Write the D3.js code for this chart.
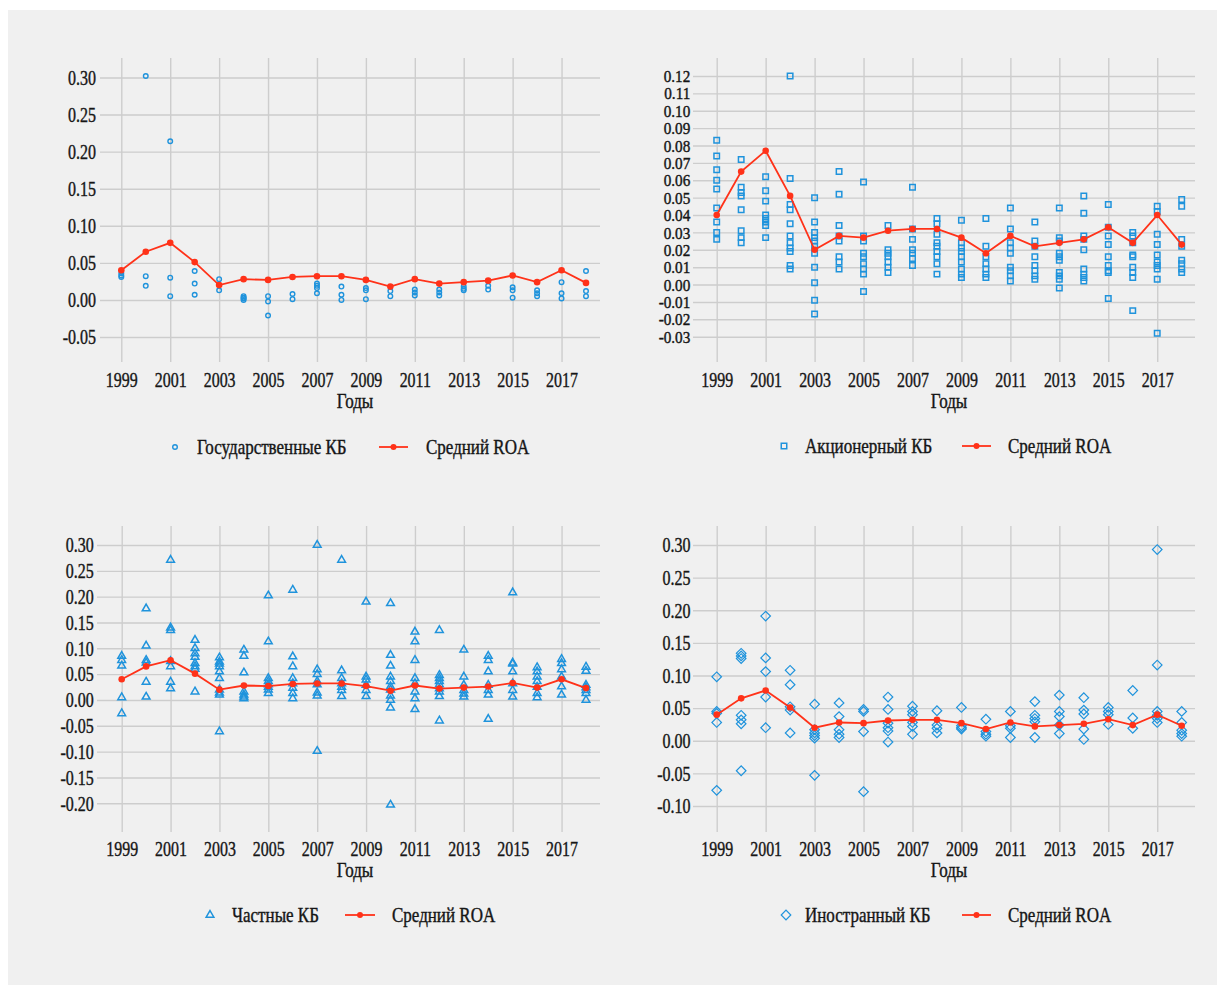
<!DOCTYPE html>
<html><head><meta charset="utf-8">
<script src="https://cdn.jsdelivr.net/npm/d3@7"></script>
<style>
html,body{margin:0;padding:0;background:#fff;}
svg{display:block;}
</style></head><body>
<svg id="chart" width="1225" height="985"></svg>
<script>
const years = [1999,2000,2001,2002,2003,2004,2005,2006,2007,2008,2009,2010,2011,2012,2013,2014,2015,2016,2017,2018];
const yearTicks = [1999,2001,2003,2005,2007,2009,2011,2013,2015,2017];

const meanROA = [0.040,0.065,0.077,0.051,0.020,0.028,0.027,0.031,0.032,0.032,0.027,0.018,0.028,0.022,0.024,0.026,0.033,0.024,0.040,0.023];

const stateBanks = [
  [0.036,0.033,0.031],
  [0.302,0.032,0.019],
  [0.214,0.030,0.005],
  [0.039,0.022,0.007],
  [0.028,0.013],
  [0.005,0.003,0.002,0.000],
  [0.005,-0.002,-0.021],
  [0.008,0.001],
  [0.022,0.019,0.016,0.009],
  [0.018,0.007,0.000],
  [0.016,0.013,0.001],
  [0.012,0.005],
  [0.014,0.010,0.006],
  [0.014,0.010,0.006],
  [0.018,0.015,0.013],
  [0.019,0.014],
  [0.017,0.013,0.003],
  [0.013,0.009,0.005],
  [0.024,0.009,0.002],
  [0.039,0.012,0.005]
];

const jointStockBanks = [
  [0.083,0.074,0.066,0.060,0.055,0.044,0.036,0.030,0.026],
  [0.072,0.056,0.053,0.051,0.043,0.031,0.027,0.024],
  [0.062,0.054,0.048,0.040,0.038,0.036,0.034,0.027],
  [0.120,0.061,0.046,0.043,0.035,0.028,0.024,0.021,0.019,0.011,0.009],
  [0.050,0.036,0.030,0.027,0.025,0.022,0.018,0.010,0.001,-0.009,-0.017],
  [0.065,0.052,0.034,0.028,0.025,0.016,0.013,0.009],
  [0.059,0.028,0.025,0.018,0.016,0.012,0.009,0.006,-0.004],
  [0.034,0.020,0.018,0.016,0.013,0.010,0.007],
  [0.056,0.032,0.026,0.020,0.018,0.015,0.011],
  [0.038,0.035,0.029,0.024,0.022,0.019,0.016,0.012,0.006],
  [0.037,0.024,0.021,0.019,0.016,0.013,0.009,0.006,0.004],
  [0.038,0.022,0.016,0.012,0.009,0.006,0.004],
  [0.044,0.032,0.024,0.021,0.018,0.010,0.008,0.005,0.002],
  [0.036,0.025,0.022,0.016,0.011,0.008,0.005,0.003],
  [0.044,0.027,0.025,0.018,0.016,0.014,0.007,0.005,0.003,-0.002],
  [0.051,0.041,0.028,0.026,0.020,0.009,0.006,0.004,0.002],
  [0.046,0.033,0.028,0.023,0.016,0.011,0.008,0.007,-0.008],
  [0.030,0.028,0.024,0.017,0.016,0.010,0.007,0.004,-0.015],
  [0.045,0.042,0.029,0.023,0.017,0.013,0.011,0.009,0.003,-0.028],
  [0.049,0.045,0.026,0.022,0.014,0.012,0.009,0.007]
];

const privateBanks = [
  [0.085,0.077,0.066,0.005,-0.026],
  [0.177,0.105,0.077,0.072,0.035,0.006],
  [0.271,0.140,0.135,0.075,0.065,0.035,0.022],
  [0.116,0.100,0.090,0.083,0.071,0.065,0.060,0.016],
  [0.082,0.074,0.070,0.065,0.055,0.042,0.020,0.014,0.010,-0.061],
  [0.097,0.085,0.053,0.016,0.010,0.006,0.003],
  [0.202,0.113,0.042,0.036,0.030,0.025,0.020,0.013],
  [0.213,0.084,0.065,0.042,0.032,0.023,0.013,0.003],
  [0.300,0.059,0.050,0.036,0.030,0.014,0.008,-0.099],
  [0.271,0.057,0.042,0.032,0.025,0.019,0.007],
  [0.190,0.045,0.039,0.029,0.019,0.007],
  [0.187,0.087,0.066,0.045,0.036,0.026,0.020,0.008,0.000,-0.015,-0.203],
  [0.132,0.113,0.077,0.042,0.032,0.016,0.003,-0.018],
  [0.135,0.048,0.042,0.036,0.030,0.022,0.016,0.007,-0.040],
  [0.097,0.045,0.029,0.019,0.012,0.006],
  [0.085,0.077,0.055,0.029,0.019,0.010,-0.037],
  [0.208,0.072,0.070,0.055,0.032,0.019,0.006],
  [0.063,0.055,0.045,0.036,0.025,0.013,0.005],
  [0.079,0.071,0.059,0.045,0.026,0.010],
  [0.064,0.056,0.029,0.024,0.019,0.013,0.000]
];

const foreignBanks = [
  [0.098,0.045,0.042,0.028,-0.076],
  [0.134,0.130,0.126,0.039,0.032,0.026,-0.046],
  [0.191,0.127,0.106,0.067,0.020],
  [0.108,0.086,0.052,0.047,0.012],
  [0.056,0.017,0.012,0.008,0.004,-0.053],
  [0.058,0.037,0.017,0.010,0.005],
  [0.048,0.045,0.014,-0.078],
  [0.067,0.048,0.027,0.020,0.015,-0.002],
  [0.053,0.045,0.040,0.028,0.022,0.010],
  [0.046,0.024,0.019,0.012],
  [0.051,0.023,0.020,0.018],
  [0.033,0.014,0.010,0.007],
  [0.045,0.023,0.019,0.005],
  [0.060,0.039,0.034,0.029,0.005],
  [0.070,0.045,0.037,0.024,0.011],
  [0.066,0.047,0.041,0.018,0.002],
  [0.051,0.045,0.040,0.025],
  [0.077,0.035,0.019],
  [0.293,0.116,0.045,0.039,0.034,0.028],
  [0.045,0.028,0.016,0.011,0.007]
];

const yTicksState = [-0.05,0,0.05,0.10,0.15,0.20,0.25,0.30];
const yTicksJoint = [-0.03,-0.02,-0.01,0,0.01,0.02,0.03,0.04,0.05,0.06,0.07,0.08,0.09,0.10,0.11,0.12];
const yTicksPrivate = [-0.20,-0.15,-0.10,-0.05,0,0.05,0.10,0.15,0.20,0.25,0.30];
const yTicksForeign = [-0.10,-0.05,0,0.05,0.10,0.15,0.20,0.25,0.30];

const seriesNames = ["Государственные КБ","Акционерный КБ","Частные КБ","Иностранный КБ"];
const meanName = "Средний ROA";
const xTitle = "Годы";

const BLUE = "#1f93dc", RED = "#ff3219", GRID = "#cdcdcd", INK = "#161616";
const FONT = "'Liberation Serif'";

const svg = d3.select("#chart");
svg.append("rect").attr("x",8).attr("y",10).attr("width",1209).attr("height",975).attr("fill","#f0f0f0");

const panels = [
  {data:stateBanks, name:seriesNames[0], ticks:yTicksState, marker:"circle", tickFont:20,
   left:100,right:600,x0:121.3,x1:586,yA:0.30,yApx:77.5,yB:-0.05,yBpx:337,gridTop:58,gridBot:362,pad:5,
   yearBase:387,titleX:355,titleBase:408,legY:448,mk:175,txt:197,l0:379,l1:408,txt2:426},
  {data:jointStockBanks, name:seriesNames[1], ticks:yTicksJoint, marker:"square", tickFont:16.5,
   left:693,right:1195,x0:716.7,x1:1181.7,yA:0.12,yApx:76,yB:-0.03,yBpx:336.7,gridTop:58,gridBot:362,pad:3,
   yearBase:387,titleX:949,titleBase:408,legY:447,mk:784,txt:805,l0:962,l1:991,txt2:1008},
  {data:privateBanks, name:seriesNames[2], ticks:yTicksPrivate, marker:"triangle", tickFont:20,
   left:97,right:600,x0:121.7,x1:586,yA:0.30,yApx:545,yB:-0.20,yBpx:803.3,gridTop:526,gridBot:832,pad:4,
   yearBase:856,titleX:355,titleBase:877,legY:916,mk:210,txt:232,l0:345,l1:375,txt2:392},
  {data:foreignBanks, name:seriesNames[3], ticks:yTicksForeign, marker:"diamond", tickFont:20,
   left:693,right:1195,x0:716.7,x1:1181.7,yA:0.30,yApx:545,yB:-0.10,yBpx:806,gridTop:526,gridBot:832,pad:3,
   yearBase:856,titleX:949,titleBase:877,legY:916,mk:786,txt:805,l0:962,l1:991,txt2:1008}
];

function styleText(sel, size){
  sel.style("font-family",FONT).attr("font-size",size).attr("fill",INK)
     .attr("stroke",INK).attr("stroke-width",0.4);
}

function drawMarker(sel, type){
  if(type==="circle"){
    sel.append("circle").attr("r",2.3).attr("fill","none").attr("stroke",BLUE).attr("stroke-width",1.4);
  } else if(type==="square"){
    sel.append("path").attr("d",d3.symbol(d3.symbolSquare,30)()).attr("fill","none").attr("stroke",BLUE).attr("stroke-width",1.5);
  } else if(type==="triangle"){
    sel.append("path").attr("d",d3.symbol(d3.symbolTriangle,26)()).attr("fill","none").attr("stroke",BLUE).attr("stroke-width",1.5);
  } else {
    sel.append("path").attr("d",d3.symbol(d3.symbolSquare,46)()).attr("transform","rotate(45)").attr("fill","none").attr("stroke",BLUE).attr("stroke-width",1.2);
  }
}

panels.forEach(p=>{
  const x = d3.scaleLinear().domain([years[0], years[years.length-1]]).range([p.x0,p.x1]);
  const y = d3.scaleLinear().domain([p.yB,p.yA]).range([p.yBpx,p.yApx]);
  const g = svg.append("g");

  // y axis with horizontal gridlines
  const ya = g.append("g").attr("transform",`translate(${p.left},0)`)
    .call(d3.axisLeft(y).tickValues(p.ticks).tickFormat(d=>d.toFixed(2)).tickSize(-(p.right-p.left)).tickPadding(p.pad));
  ya.attr("font-family",null);
  ya.select(".domain").remove();
  ya.selectAll(".tick line").attr("stroke",GRID).attr("stroke-width",1.4);
  ya.selectAll(".tick text").call(styleText, p.tickFont)
    .attr("transform", p.tickFont<20 ? "scale(0.92,1)" : "scale(0.8,1)")
    .attr("dy", "0.34em");

  // x axis with vertical gridlines
  const xa = g.append("g").attr("transform",`translate(0,${p.gridBot})`)
    .call(d3.axisBottom(x).tickValues(yearTicks).tickFormat(d3.format("d")).tickSize(-(p.gridBot-p.gridTop)));
  xa.attr("font-family",null);
  xa.select(".domain").remove();
  xa.selectAll(".tick line").attr("stroke",GRID).attr("stroke-width",1.4);
  xa.selectAll(".tick text").call(styleText, 21).attr("y",p.yearBase-p.gridBot).attr("dy",0)
    .attr("transform","scale(0.76,1)");

  g.append("text").attr("transform",`translate(${p.titleX},${p.titleBase}) scale(0.85,1)`)
    .attr("text-anchor","middle").call(styleText, 20).text(xTitle);

  // scatter points
  const pts = [];
  p.data.forEach((vals,i)=>vals.forEach(v=>pts.push({yr:years[i],v})));
  const mg = g.append("g").selectAll("g").data(pts).join("g")
    .attr("transform",d=>`translate(${x(d.yr)},${y(d.v)})`);
  drawMarker(mg, p.marker);

  // mean line
  const line = d3.line().x((d,i)=>x(years[i])).y(d=>y(d));
  g.append("path").datum(meanROA).attr("d",line).attr("fill","none").attr("stroke",RED).attr("stroke-width",1.8);
  g.append("g").selectAll("circle").data(meanROA).join("circle")
    .attr("cx",(d,i)=>x(years[i])).attr("cy",d=>y(d)).attr("r",3.3).attr("fill",RED);

  // legend
  const lg = g.append("g");
  drawMarker(lg.append("g").attr("transform",`translate(${p.mk},${p.legY-1})`), p.marker);
  lg.append("text").attr("transform",`translate(${p.txt},${p.legY+6}) scale(0.85,1)`).call(styleText, 20).text(p.name);
  lg.append("line").attr("x1",p.l0).attr("x2",p.l1).attr("y1",p.legY-1).attr("y2",p.legY-1).attr("stroke",RED).attr("stroke-width",1.8);
  lg.append("circle").attr("cx",(p.l0+p.l1)/2).attr("cy",p.legY-1).attr("r",3).attr("fill",RED);
  lg.append("text").attr("transform",`translate(${p.txt2},${p.legY+6}) scale(0.85,1)`).call(styleText, 20).text(meanName);
});
</script>
</body></html>
